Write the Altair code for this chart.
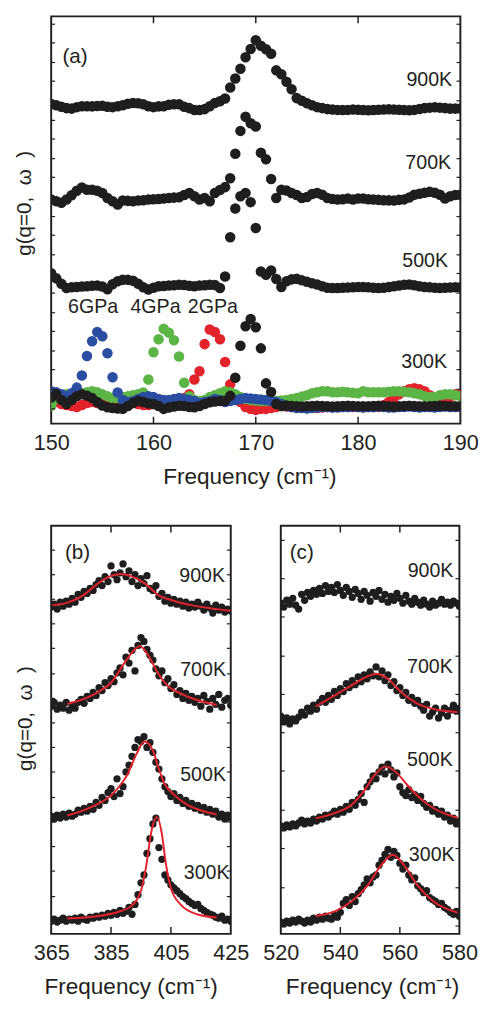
import altair as alt
import pandas as pd

FONT = "Liberation Sans"
INK = "#231f20"
RED = "#e3232b"
BLUE = "#2b4ea2"
GREEN = "#5cb646"
BLACK = "#1e1e1e"

# ---------------- panel (a): 150-190 cm-1, step 0.5 ----------------
FREQ_A = [150 + 0.5 * i for i in range(81)]

A_900K = [325.7, 324.5, 323, 321.5, 321, 322.5, 323.5, 323.5, 323.3, 323.7,
          324, 323, 322.5, 323.5, 324.5, 326, 326.7, 326.5, 325.5, 323.5,
          322.5, 323.3, 323.5, 325, 325.5, 325.5, 323, 321.5, 319.5, 319.5,
          320.5, 323.5, 326.7, 328.5, 331.3, 342.5, 351.7, 361.7, 373.3, 381.7,
          390.7, 385, 381.5, 377, 360, 356, 348.3, 340.7, 331.7, 329,
          326.5, 324.5, 322.5, 321.5, 320.5, 320, 319.7, 319.5, 319.7, 320,
          319.8, 319.5, 319.3, 319.5, 319.8, 320, 320.3, 320.2, 319.8, 319.5,
          319.3, 319.7, 320.7, 321.5, 322, 322.3, 322, 321.5, 321, 321,
          321]
A_700K = [228.3, 226.7, 225, 228.3, 232.7, 237.3, 240.7, 238.3, 238.3, 237.3,
          235, 230, 226.7, 223.3, 227.3, 227, 226.7, 227.3, 227.7, 228.3,
          228.7, 229, 229.3, 230, 230.3, 230.7, 233, 235, 231.7, 228.3,
          230, 226.7, 235, 238, 241, 250, 275, 298.3, 312.7, 306,
          302.7, 276, 269.3, 249.3, 230, 238.3, 237.5, 235, 233, 230,
          231, 234, 235, 233.3, 230, 229, 228.3, 228.7, 229.3, 228.3,
          229.5, 229.3, 228.7, 228.3, 228, 227.7, 227.5, 227.3, 228, 228.5,
          230.5, 233.3, 234.3, 235.3, 236.3, 235.3, 233.3, 229.3, 231.7, 233,
          233.3]
A_500K = [153.3, 148, 142.5, 138.3, 139, 139.3, 139.7, 140, 140.5, 140.7,
          139.7, 137, 142, 145, 146.7, 146.5, 145.5, 142.5, 139, 136.7,
          138.5, 140, 140.3, 140.7, 141, 141.5, 141.3, 140.5, 140, 140.7,
          141, 141.5, 141.3, 138.3, 150, 190, 219.3, 231.7, 235, 225.7,
          199.3, 155, 151.7, 156, 147.3, 139.3, 145, 147, 147.5, 146,
          144.5, 143, 141.7, 140, 138.5, 138.3, 138.3, 138.5, 138.8, 139,
          139.3, 139.3, 139, 138.5, 138.3, 138.5, 139.3, 140, 140.7, 141.5,
          141.7, 141, 140, 139.3, 139, 138.5, 138.3, 138.5, 138.7, 139,
          139]
A_300K = [26.7, 30, 24, 20, 24, 28, 30, 28.5, 26, 22,
          18.5, 16.7, 16, 15.5, 15, 18, 21, 23.3, 22, 20.5,
          20, 18, 15, 16.5, 17.5, 18.3, 18, 17, 16.7, 18,
          20, 21.7, 22.5, 23, 23.3, 28.3, 46.7, 79.3, 99.3, 106.7,
          98.3, 76.7, 41, 32.3, 20, 18, 18.5, 18, 17.8, 17.5,
          17.7, 18, 18.2, 18, 17.7, 17.5, 17.8, 18, 18.2, 18,
          17.8, 17.6, 17.8, 18, 18.2, 18, 17.7, 17.5, 17.7, 18,
          18.2, 18, 17.8, 17.6, 17.8, 18, 18.2, 18, 17.8, 17.7,
          17.8]
A_6GPA = [33, 32, 30, 28, 31, 36.7, 49, 69, 84, 93.3,
          89, 71.7, 47.3, 31.7, 24, 22, 23, 25, 27, 28,
          27, 25, 24, 24, 25, 26, 25, 24, 23, 21,
          22, 23, 25, 24, 22, 23, 24, 25, 26, 25.5,
          25, 24.5, 24, 23, 22, 20, 18, 17, 16, 16,
          15.5, 16, 16.5, 17, 17, 16.5, 16.5, 17, 17, 17.5,
          17, 16.5, 17, 17, 17.5, 17, 16.5, 16.5, 17, 17,
          17.5, 17, 16.5, 17, 17, 16.5, 17, 17.5, 17, 17,
          17]
A_4GPA = [18.3, 25, 28, 30, 29, 30, 31, 32, 33, 32,
          30, 28, 26, 26, 27, 28, 29, 30, 31.7, 45,
          72.7, 86, 96.7, 92.7, 85, 68.3, 41.7, 28, 24, 23,
          24, 27, 29, 31, 33, 32, 30, 27, 25, 24,
          23.5, 23, 23, 23, 23, 23.5, 24, 25, 26, 27.5,
          29, 31, 32, 33, 33, 32, 32, 32.5, 32, 31.5,
          31, 33, 32, 32, 32, 32, 32.5, 33, 33, 32.5,
          32, 31, 30, 28, 27, 27, 29, 30, 30, 29,
          28]
A_2GPA = [25, 22, 20, 19, 18, 17, 19, 21, 22, 21,
          20, 19, 19, 20, 21, 22, 21, 20, 19, 19,
          20, 21, 21, 22, 23, 24, 26, 30, 45, 53.3,
          81, 96, 93.3, 86, 62.7, 40, 28, 22, 17, 15,
          14, 15, 15, 16, 17, 18, 17.5, 17, 17, 16.5,
          17, 16.5, 16, 16.5, 17, 17, 17, 17, 17, 17,
          17, 17, 17, 17, 17, 19, 22, 26, 30, 33,
          35, 36, 35, 33, 29, 24, 19, 21, 27, 30,
          30]

A_XLABELS = [150, 160, 170, 180, 190]
A_XMAJOR = [160, 170, 180]
A_YTICKS = [15, 35, 55, 74, 94, 113, 133, 153, 172, 192, 211,
            231, 251, 270, 290, 309, 329, 349, 368, 388, 407]

# ---------------- panel (b): 365-425 cm-1 ----------------
FREQ_B = list(range(365, 426))
B_900K = [333, 336, 331, 338, 334, 339, 336, 342, 338, 346,
          343, 349, 347, 352, 350, 356, 360, 355, 364, 359,
          375, 366, 361, 368, 377, 364, 370, 359, 366, 355,
          362, 357, 365, 352, 350, 355, 344, 347, 339, 343,
          337, 341, 336, 339, 334, 338, 332, 336, 333, 338,
          334, 330, 336, 332, 327, 335, 330, 333, 328, 331,
          329]
B_700K = [232, 236, 229, 233, 230, 236, 228, 233, 230, 236,
          239, 235, 242, 240, 246, 243, 251, 248, 256, 253,
          260, 257, 266, 271, 264, 282, 276, 289, 268, 294,
          302, 298, 290, 284, 279, 270, 263, 268, 256, 260,
          250, 254, 244, 248, 240, 245, 238, 242, 236, 240,
          232, 243, 237, 229, 240, 234, 244, 231, 238, 240,
          233]
B_500K = [120, 117, 121, 118, 122, 119, 123, 120, 122, 126,
          124, 128, 125, 130, 127, 134, 131, 139, 136, 144,
          148, 140, 158, 143, 150, 165, 172, 181, 190, 198,
          196, 201, 190, 195, 185, 175, 168, 158, 150, 145,
          140, 143, 136, 139, 133, 136, 130, 133, 128, 131,
          126, 129, 124, 127, 122, 125, 119, 122, 117, 121,
          118]
B_300K = [13, 15, 12, 14, 16, 13, 15, 14, 16, 13,
          17, 15, 14, 17, 16, 18, 17, 19, 18, 21,
          19, 22, 20, 24, 21, 23, 27, 20, 30, 40,
          52, 60, 82, 97, 112, 118, 88, 76, 60, 55,
          50, 47, 44, 41, 38, 36, 33, 31, 29, 30,
          26, 24, 22, 20, 19, 17, 16, 18, 14, 15,
          13]
B_FIT_900K = [(365.5, 335), (370.2, 337.3), (375.7, 345), (381.2, 358.3), (384.4, 364),
              (388.3, 366.7), (392.1, 364), (396.5, 356.7), (400.9, 345), (405.3, 340),
              (411.8, 335), (418.4, 331.7), (424.9, 329.3)]
B_FIT_700K = [(370.4, 234.3), (376.4, 240), (380.8, 246.7), (385.2, 256.7), (389.6, 276.7),
              (393.0, 290), (394.6, 293.3), (397.2, 285), (400.5, 266.7), (403.8, 253.3),
              (408.2, 245), (413.7, 238.3), (420.3, 233.3)]
B_FIT_500K = [(370.4, 120.7), (376.4, 126.7), (380.8, 132.7), (385.2, 141.7), (388.5, 153.3),
              (390.4, 162), (393.5, 183.3), (396.2, 196), (399.0, 186.7), (401.0, 168),
              (402.8, 153.3), (406.1, 141.7), (410.4, 131.7), (415.9, 125), (420.3, 121.7)]
B_FIT_300K = [(370.4, 15.7), (380.8, 18.3), (387.3, 22.3), (391.7, 28.3), (395.1, 45),
              (396.8, 70), (398.4, 103.3), (400.4, 119), (401.9, 103.3), (403.4, 70),
              (405.0, 46.7), (408.2, 30), (413.7, 20), (420.3, 16.7)]
B_XLABELS = [365, 385, 405, 425]
B_XMAJOR = [385, 405]
B_YTICKS = [13, 38, 64, 89, 114, 139, 165, 190, 215, 240, 265, 291, 316, 341, 366, 391]

# ---------------- panel (c): 520-580 cm-1 ----------------
FREQ_C = list(range(520, 581))
C_900K = [337, 333, 340, 336, 342, 335, 331, 346, 340, 348,
          344, 350, 346, 352, 347, 355, 349, 353, 348, 356,
          350, 345, 353, 349, 343, 351, 347, 341, 349, 345,
          339, 348, 344, 350, 341, 346, 338, 344, 340, 347,
          342, 337, 345, 339, 336, 342, 338, 335, 340, 336,
          333, 339, 335, 337, 341, 336, 338, 335, 339, 337,
          334]
C_700K = [222, 216, 220, 214, 219, 217, 221, 226, 223, 230,
          227, 233, 229, 236, 240, 236, 243, 239, 247, 243,
          250, 247, 255, 251, 258, 254, 262, 257, 264, 260,
          267, 263, 272, 262, 268, 258, 264, 253, 257, 248,
          251, 243, 246, 238, 241, 235, 238, 232, 228, 234,
          222, 226, 230, 220, 225, 230, 222, 228, 233, 227,
          230]
C_500K = [110, 108, 111, 109, 112, 110, 113, 116, 112, 115,
          113, 117, 115, 119, 117, 121, 119, 122, 125, 122,
          127, 124, 130, 127, 134, 131, 137, 143, 134, 150,
          155, 161, 158, 165, 170, 163, 173, 167, 160, 164,
          150, 144, 141, 147, 139, 142, 136, 140, 133, 129,
          131, 125, 127, 122, 125, 119, 121, 115, 118, 112,
          115]
C_300K = [12, 10, 13, 11, 14, 12, 15, 13, 11, 14,
          12, 16, 14, 17, 15, 18, 16, 15, 19, 17,
          22, 31, 35, 29, 38, 33, 41, 45, 50, 56,
          52, 58, 60, 70, 75, 81, 86, 78, 84, 80,
          72, 66, 70, 60, 55, 57, 49, 46, 42, 44,
          37, 35, 33, 30, 31, 27, 25, 22, 20, 23,
          18]
C_FIT_700K = [(531.7, 231.7), (538.3, 243.3), (543.8, 253.3), (549.3, 262.7), (552.0, 265),
              (555.9, 260), (560.3, 246.7), (565.7, 235), (571.2, 229.3), (579.4, 226)]
C_FIT_500K = [(531.7, 117.7), (538.3, 123.3), (543.8, 131.7), (548.2, 146.7), (551.5, 161.7),
              (555.3, 170.7), (559.2, 163.3), (562.5, 151.7), (566.8, 138.3), (571.2, 128.3),
              (579.4, 118.3)]
C_FIT_300K = [(531.7, 18.3), (538.3, 23.3), (543.8, 33.3), (549.3, 50), (553.7, 70),
              (557.6, 80.7), (561.4, 70), (565.8, 50), (571.2, 33.3), (579.4, 21.7)]
C_XLABELS = [520, 540, 560, 580]
C_XMAJOR = [540, 560]
C_YTICKS = [8, 47, 87, 126, 166, 205, 244, 283, 323, 362, 401]

XTITLE = "Frequency (cm\u207b\u00b9)"
YTITLE = "g(q=0, \u00a0\u03c9\u00a0 )"


def x_axis(values, title_x):
    return alt.Axis(values=values, format="d", labelFontSize=22, labelPadding=9,
                    labelFlush=False, labelOverlap=False, ticks=False, domain=False,
                    grid=False, title=XTITLE, titleFontSize=23, titleFontWeight="normal",
                    titlePadding=13, titleX=title_x)


def y_axis(title_y, pad):
    return alt.Axis(labels=False, ticks=False, domain=False, grid=False, title=YTITLE,
                    titleFontSize=21, titleFontWeight="normal", titlePadding=pad,
                    titleY=title_y, titleAlign="center")


def build_panel(W, H, xdom, ydom, xaxis, yaxis, series, size, fits, texts, xmajor, yticks):
    X = alt.X("f:Q", scale=alt.Scale(domain=xdom, nice=False, zero=False), axis=xaxis)
    Y = alt.Y("v:Q", scale=alt.Scale(domain=ydom, nice=False, zero=False), axis=yaxis)
    layers = []
    for freqs, vals, color in series:
        df = pd.DataFrame({"f": freqs, "v": vals})
        layers.append(alt.Chart(df).mark_circle(size=size, color=color, opacity=1, clip=True)
                      .encode(x=X, y=Y))
    for pts in fits:
        df = pd.DataFrame(pts, columns=["f", "v"])
        layers.append(alt.Chart(df).mark_line(color=RED, strokeWidth=2, interpolate="monotone",
                                              clip=True).encode(x=X, y=Y))
    for rows, align, fsize in texts:
        df = pd.DataFrame(rows, columns=["t", "f", "v"])
        layers.append(alt.Chart(df).mark_text(align=align, baseline="middle", fontSize=fsize,
                                              font=FONT, color=INK)
                      .encode(x=X, y=Y, text="t:N"))
    tx = pd.DataFrame({"f": xmajor})
    layers.append(alt.Chart(tx).mark_rule(color=INK, strokeWidth=1.5)
                  .encode(x=X, y=alt.value(0), y2=alt.value(7)))
    layers.append(alt.Chart(tx).mark_rule(color=INK, strokeWidth=1.5)
                  .encode(x=X, y=alt.value(H - 7), y2=alt.value(H)))
    ty = pd.DataFrame({"v": yticks})
    layers.append(alt.Chart(ty).mark_rule(color=INK, strokeWidth=1.2)
                  .encode(y=Y, x=alt.value(0), x2=alt.value(4)))
    layers.append(alt.Chart(ty).mark_rule(color=INK, strokeWidth=1.2)
                  .encode(y=Y, x=alt.value(W - 4), x2=alt.value(W)))
    return alt.layer(*layers).properties(width=W, height=H)


panel_a = build_panel(
    417, 415, [150, 190], [0, 415],
    x_axis(A_XLABELS, 202), y_axis(190, 17),
    [(FREQ_A, A_2GPA, RED), (FREQ_A, A_4GPA, GREEN), (FREQ_A, A_6GPA, BLUE),
     (FREQ_A, A_300K, BLACK), (FREQ_A, A_500K, BLACK), (FREQ_A, A_700K, BLACK),
     (FREQ_A, A_900K, BLACK)],
    115, [],
    [([("900K", 189.2, 350), ("700K", 189.1, 265), ("500K", 188.8, 166), ("300K", 188.7, 63)], "right", 20),
     ([("(a)", 151.1, 374)], "left", 21),
     ([("6GPa", 154.1, 118.3), ("4GPa", 160.2, 118.3), ("2GPa", 165.8, 118.3)], "center", 20)],
    A_XMAJOR, A_YTICKS)

panel_b = build_panel(
    183, 416, [365, 425], [0, 416],
    x_axis(B_XLABELS, 81), y_axis(196, 16),
    [(FREQ_B, B_300K, BLACK), (FREQ_B, B_500K, BLACK), (FREQ_B, B_700K, BLACK),
     (FREQ_B, B_900K, BLACK)],
    55, [B_FIT_900K, B_FIT_700K, B_FIT_500K, B_FIT_300K],
    [([("900K", 423.1, 365), ("700K", 423.4, 268.3), ("500K", 423.4, 161.7), ("300K", 424.6, 61.7)], "right", 20),
     ([("(b)", 369.6, 388)], "left", 21)],
    B_XMAJOR, B_YTICKS)

panel_c = build_panel(
    182, 416, [520, 580], [0, 416],
    x_axis(C_XLABELS, 93), None,
    [(FREQ_C, C_300K, BLACK), (FREQ_C, C_500K, BLACK), (FREQ_C, C_700K, BLACK),
     (FREQ_C, C_900K, BLACK)],
    55, [C_FIT_700K, C_FIT_500K, C_FIT_300K],
    [([("900K", 578.0, 370), ("700K", 577.8, 271.7), ("500K", 577.8, 176.7), ("300K", 578.4, 80)], "right", 20),
     ([("(c)", 523, 388)], "left", 21)],
    C_XMAJOR, C_YTICKS)

bottom = alt.hconcat(panel_b, panel_c, spacing=51, bounds="flush")
chart = alt.vconcat(panel_a, bottom, spacing=104, bounds="flush").properties(
    padding={"left": 5, "top": -3, "right": 0, "bottom": 0}
).configure_view(
    stroke=INK, strokeWidth=2
).configure_axis(
    labelFont=FONT, titleFont=FONT, labelColor=INK, titleColor=INK
).configure_text(font=FONT)

chart.save("out.html", embed_options={"renderer": "svg", "actions": False})
